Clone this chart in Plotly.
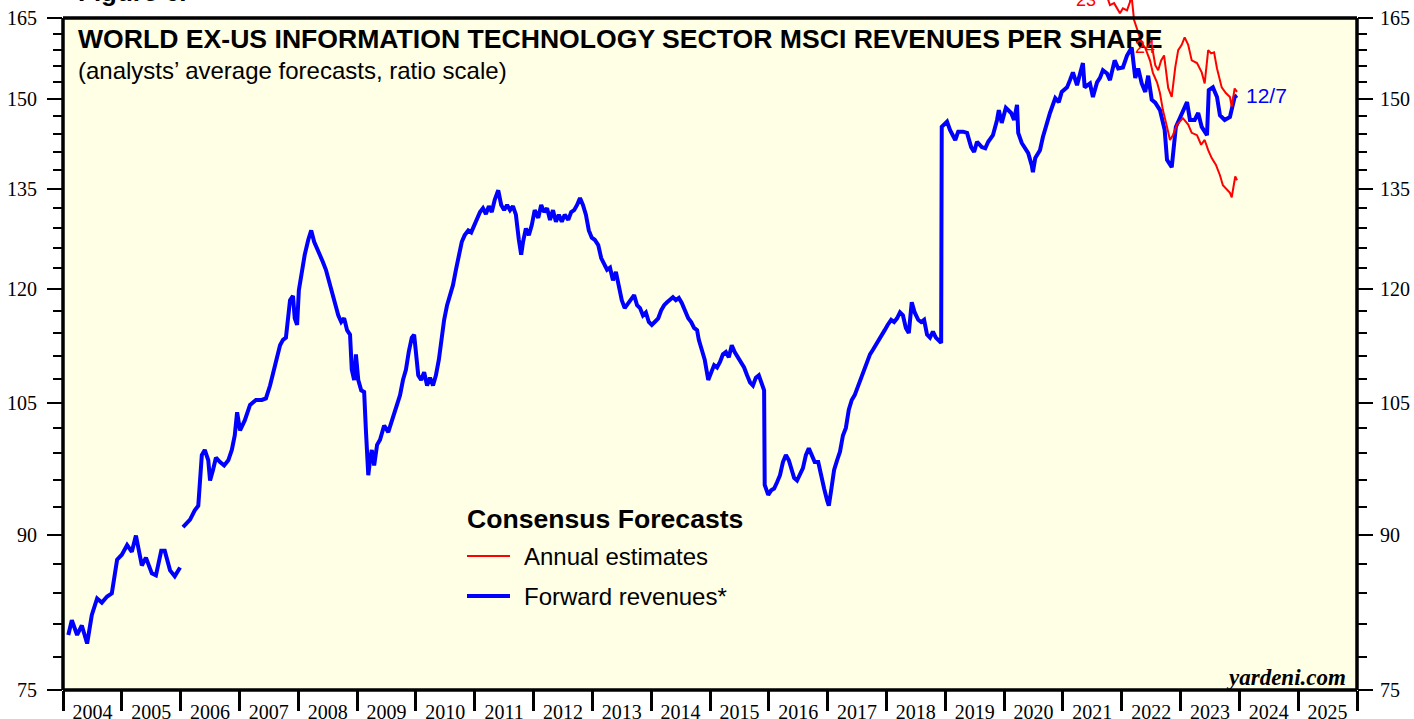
import math
import plotly.graph_objects as go

# ---------------- data ----------------
# Forward revenues (blue), first segment 2004-2005
blue_years_a = [2004.09, 2004.15, 2004.24, 2004.32, 2004.41, 2004.49, 2004.58, 2004.66, 2004.75, 2004.83,
                2004.92, 2005.00, 2005.09, 2005.17, 2005.24, 2005.34, 2005.41, 2005.51, 2005.58, 2005.67,
                2005.73, 2005.82, 2005.90, 2005.99]
blue_vals_a = [80.0, 81.4, 80.0, 80.9, 79.2, 81.9, 83.5, 83.1, 83.7, 84.0,
               87.4, 87.9, 88.9, 88.2, 89.9, 86.8, 87.6, 86.0, 85.8, 88.3,
               88.3, 86.3, 85.7, 86.6]

# Forward revenues (blue), second segment 2006-2023
blue_years_b = [
    2006.04, 2006.16, 2006.24, 2006.30, 2006.36, 2006.41, 2006.47, 2006.50, 2006.55, 2006.60,
    2006.67, 2006.74, 2006.81, 2006.87, 2006.92, 2006.96,
    2007.01, 2007.09, 2007.18, 2007.28, 2007.38, 2007.45, 2007.52, 2007.59, 2007.64, 2007.69,
    2007.74, 2007.79, 2007.86, 2007.91, 2007.94, 2007.98,
    2008.01, 2008.06, 2008.11, 2008.17, 2008.22, 2008.27, 2008.32, 2008.37, 2008.42, 2008.47,
    2008.52, 2008.57, 2008.62, 2008.68, 2008.73, 2008.78, 2008.83, 2008.88, 2008.91, 2008.95, 2008.98,
    2009.02, 2009.07, 2009.12, 2009.15, 2009.19, 2009.22, 2009.25, 2009.29, 2009.34, 2009.39,
    2009.46, 2009.53, 2009.59, 2009.66, 2009.73, 2009.78, 2009.83, 2009.88, 2009.93, 2009.97,
    2010.00, 2010.04, 2010.09, 2010.14, 2010.19, 2010.24, 2010.29, 2010.34, 2010.39, 2010.43,
    2010.48, 2010.53, 2010.58, 2010.63, 2010.68, 2010.73, 2010.78, 2010.83, 2010.89, 2010.94, 2010.99,
    2011.04, 2011.09, 2011.14, 2011.19, 2011.24, 2011.29, 2011.34, 2011.40, 2011.45, 2011.50,
    2011.55, 2011.60, 2011.65, 2011.70, 2011.75, 2011.79, 2011.82, 2011.87, 2011.92, 2011.97,
    2012.02, 2012.08, 2012.13, 2012.18, 2012.23, 2012.28, 2012.33, 2012.38, 2012.43, 2012.48,
    2012.53, 2012.59, 2012.64, 2012.69, 2012.74, 2012.79, 2012.84, 2012.89, 2012.94, 2012.99,
    2013.04, 2013.10, 2013.15, 2013.20, 2013.25, 2013.30, 2013.35, 2013.40, 2013.45, 2013.50,
    2013.55, 2013.61, 2013.66, 2013.71, 2013.76, 2013.81, 2013.86, 2013.91, 2013.96,
    2014.01, 2014.06, 2014.12, 2014.17, 2014.22, 2014.27, 2014.32, 2014.37, 2014.42, 2014.47,
    2014.52, 2014.57, 2014.63, 2014.68, 2014.73, 2014.78, 2014.81, 2014.86, 2014.91, 2014.97,
    2015.02, 2015.07, 2015.12, 2015.17, 2015.22, 2015.27, 2015.32, 2015.37, 2015.42, 2015.48,
    2015.53, 2015.58, 2015.63, 2015.68, 2015.73, 2015.78, 2015.83, 2015.88, 2015.92, 2015.93, 2015.99,
    2016.04, 2016.09, 2016.14, 2016.19, 2016.24, 2016.29, 2016.34, 2016.38, 2016.43, 2016.48,
    2016.53, 2016.58, 2016.63, 2016.68, 2016.73, 2016.78, 2016.84, 2016.89, 2016.94, 2016.99,
    2017.02, 2017.06, 2017.11, 2017.16, 2017.21, 2017.26, 2017.31, 2017.36, 2017.41, 2017.46,
    2017.52, 2017.57, 2017.62, 2017.67, 2017.72, 2017.77, 2017.82, 2017.87, 2017.92, 2017.97,
    2018.02, 2018.08, 2018.13, 2018.18, 2018.23, 2018.28, 2018.33, 2018.38, 2018.43, 2018.48,
    2018.54, 2018.59, 2018.64, 2018.69, 2018.74, 2018.79, 2018.84, 2018.89, 2018.93, 2018.94,
    2019.03, 2019.08, 2019.17, 2019.22, 2019.30, 2019.37, 2019.44, 2019.49, 2019.54, 2019.62,
    2019.68, 2019.73, 2019.81, 2019.88, 2019.91, 2019.96,
    2020.03, 2020.12, 2020.17, 2020.22, 2020.24, 2020.30, 2020.36, 2020.41, 2020.47, 2020.49,
    2020.53, 2020.61, 2020.66, 2020.73, 2020.78, 2020.87, 2020.93, 2020.98,
    2021.07, 2021.12, 2021.17, 2021.24, 2021.34, 2021.37, 2021.46, 2021.51, 2021.58, 2021.63,
    2021.68, 2021.75, 2021.80, 2021.88, 2021.94,
    2022.02, 2022.09, 2022.17, 2022.23, 2022.28, 2022.34, 2022.40, 2022.45, 2022.51, 2022.57,
    2022.65, 2022.73, 2022.77, 2022.85, 2022.92, 2022.99,
    2023.11, 2023.16, 2023.24, 2023.30, 2023.36, 2023.45, 2023.48, 2023.55, 2023.62, 2023.67,
    2023.75, 2023.84, 2023.89, 2023.92, 2023.96,
]
blue_vals_b = [
    90.8, 91.6, 92.6, 93.1, 98.8, 99.4, 98.2, 95.9, 97.1, 98.5,
    98.0, 97.6, 98.2, 99.4, 101.1, 103.9,
    101.7, 102.9, 104.8, 105.4, 105.4, 105.6, 107.2, 109.2, 110.5, 112.4,
    113.1, 113.4, 118.5, 119.1, 116.0, 115.1,
    119.9, 122.8, 125.0, 127.2, 128.6, 126.9, 126.0, 125.0, 123.9, 122.8,
    121.3, 119.9, 118.5, 116.4, 115.5, 116.0, 114.4, 113.8, 109.2, 107.9, 111.2,
    107.9, 106.6, 106.4, 101.7, 96.5, 98.2, 99.4, 97.6, 100.0, 100.6,
    102.3, 101.5, 102.9, 104.2, 106.0, 107.9, 109.2, 111.6, 113.4, 113.8,
    111.8, 108.5, 107.9, 108.9, 107.2, 108.2, 107.2, 108.5, 110.5, 113.1,
    115.8, 117.8, 119.1, 120.6, 122.8, 125.0, 126.9, 127.9, 128.6, 128.3, 129.4,
    130.5, 131.4, 132.0, 131.1, 132.3, 131.4, 133.3, 134.8, 132.5, 131.7,
    132.5, 131.7, 132.3, 131.0, 127.2, 125.0, 126.8, 128.9, 127.9, 129.4,
    131.7, 130.5, 132.5, 131.4, 132.0, 130.2, 131.7, 129.9, 131.0, 129.9,
    131.0, 130.2, 131.4, 131.7, 132.5, 133.6, 132.5, 131.0, 128.6, 127.5,
    127.2, 126.4, 124.5, 123.5, 122.8, 123.1, 121.3, 122.5, 120.6, 118.5,
    117.4, 118.1, 118.8, 119.2, 117.8, 117.4, 116.4, 116.8, 115.5,
    115.1, 115.5, 116.0, 117.1, 117.8, 118.2, 118.5, 118.9, 118.5, 118.8,
    118.1, 117.1, 116.0, 115.5, 114.7, 114.4, 113.1, 111.8, 110.5, 107.9,
    108.9, 109.8, 109.5, 110.2, 111.2, 111.5, 110.8, 112.4, 111.5, 110.8,
    110.2, 109.5, 108.5, 107.6, 107.2, 108.2, 108.5, 107.2, 106.6, 95.4, 94.3,
    94.8, 95.0, 95.7, 96.5, 98.0, 98.8, 98.2, 97.1, 96.2, 95.9,
    96.5, 97.3, 98.8, 99.6, 98.8, 98.0, 98.0, 96.2, 95.0, 93.7,
    93.1, 94.8, 97.1, 98.2, 99.2, 101.1, 102.0, 104.2, 105.4, 106.0,
    107.2, 108.2, 108.9, 110.2, 111.2, 111.8, 112.4, 113.1, 113.8, 114.4,
    115.1, 115.8, 115.5, 116.0, 116.8, 116.4, 114.7, 114.0, 118.2, 116.8,
    115.8, 115.5, 115.8, 113.8, 113.4, 114.2, 113.4, 113.1, 112.7, 145.2,
    146.1, 144.7, 143.0, 144.4, 144.4, 144.2, 141.8, 141.0, 142.7, 141.8,
    141.6, 142.7, 143.8, 146.4, 148.1, 145.9,
    148.5, 147.6, 146.4, 149.0, 144.2, 142.5, 141.6, 140.8, 138.8, 137.7,
    140.0, 141.3, 143.5, 146.1, 147.6, 150.2, 149.5, 151.3,
    152.1, 153.4, 154.8, 152.5, 156.5, 152.1, 152.8, 150.4, 153.0, 153.8,
    155.2, 154.6, 153.4, 157.0, 155.5,
    155.7, 157.9, 159.4, 153.8, 155.5, 152.8, 151.3, 154.2, 149.9, 149.4,
    148.1, 144.7, 139.7, 138.5, 145.2, 146.9,
    149.5, 146.4, 146.4, 147.6, 145.2, 143.8, 151.6, 152.1, 150.4, 147.2,
    146.4, 146.9, 148.7, 150.4, 150.7,
]
assert len(blue_years_b) == len(blue_vals_b)
assert len(blue_years_a) == len(blue_vals_a)

# Annual estimates (red): 2023 and 2024
est23_years = [2021.63, 2021.77, 2021.80, 2021.87, 2021.92, 2021.97, 2022.02, 2022.09, 2022.14, 2022.16,
               2022.21, 2022.28, 2022.34, 2022.40, 2022.48, 2022.53, 2022.60, 2022.65, 2022.70, 2022.77,
               2022.82, 2022.87, 2022.94, 2023.04, 2023.13, 2023.19, 2023.28, 2023.35, 2023.41, 2023.47,
               2023.53, 2023.60, 2023.67, 2023.72, 2023.79, 2023.84, 2023.87, 2023.91, 2023.93, 2023.96]
est23_vals = [173.5, 168.5, 167.5, 167.9, 166.9, 165.9, 166.9, 166.5, 168.1, 170.1,
              164.6, 162.1, 160.2, 159.3, 157.0, 154.7, 153.0, 151.1, 148.1, 145.2,
              143.0, 143.8, 145.6, 146.7, 145.6, 144.2, 143.8, 142.2, 143.0, 141.3,
              140.0, 138.9, 137.2, 135.6, 134.8, 134.4, 133.7, 135.6, 137.0, 136.4]
est24_years = [2022.52, 2022.57, 2022.62, 2022.67, 2022.72, 2022.75, 2022.79, 2022.85, 2022.91, 2022.96,
               2023.02, 2023.07, 2023.13, 2023.19, 2023.28, 2023.36, 2023.41, 2023.47, 2023.52, 2023.57,
               2023.62, 2023.70, 2023.77, 2023.84, 2023.87, 2023.92, 2023.96]
est24_vals = [159.3, 156.1, 155.2, 157.0, 157.9, 155.2, 152.0, 150.4, 155.7, 158.9,
              159.9, 161.3, 159.9, 157.0, 156.5, 154.8, 152.8, 158.9, 158.3, 158.5,
              155.5, 152.1, 151.1, 150.4, 148.7, 151.9, 151.3]
assert len(est23_years) == len(est23_vals)
assert len(est24_years) == len(est24_vals)

year_labels = [str(y) for y in range(2004, 2026)]
y_ticks = [75, 90, 105, 120, 135, 150, 165]
y_minor = [v for v in range(78, 165, 3) if v % 15 != 0]

# ---------------- figure ----------------
W, H = 1414, 719
ML, MR, MT, MB = 63, 57, 0, 29
PH = H - MT - MB
Y0, YTOP = 75.0, 165.0
# top of the drawing area is 18 px above the 165 line
L = math.log10(YTOP / Y0) / (1 - 18.0 / PH)
YMAX_LOG = math.log10(Y0) + L


def py(px_from_top):
    return (PH - px_from_top) / PH


def px(x_pixel):
    return (x_pixel - ML) / (W - ML - MR)


p165 = (math.log10(YTOP) - math.log10(Y0)) / L

BLUE = "#0000FF"
RED = "#FF0000"
SERIF = "Liberation Serif, Times New Roman, serif"
SANS = "Liberation Sans, Arial, sans-serif"

fig = go.Figure()

fig.add_trace(go.Scatter(
    x=blue_years_a + [None] + blue_years_b,
    y=blue_vals_a + [None] + blue_vals_b,
    mode="lines", line=dict(color=BLUE, width=4), connectgaps=False,
    name="Forward revenues*", showlegend=False, hoverinfo="skip"))
fig.add_trace(go.Scatter(x=est23_years, y=est23_vals, mode="lines",
                         line=dict(color=RED, width=2), name="Annual estimates",
                         showlegend=False, hoverinfo="skip"))
fig.add_trace(go.Scatter(x=est24_years, y=est24_vals, mode="lines",
                         line=dict(color=RED, width=2), name="Annual estimates 2024",
                         showlegend=False, hoverinfo="skip"))
# helper trace to show secondary axes
fig.add_trace(go.Scatter(x=[None], y=[None], xaxis="x2", yaxis="y2", showlegend=False,
                         hoverinfo="skip"))

yaxis_common = dict(
    type="log", range=[math.log10(Y0), YMAX_LOG], domain=[0, 1],
    tickmode="array", tickvals=y_ticks, ticktext=[str(v) for v in y_ticks],
    ticks="outside", ticklen=15, tickwidth=2, tickcolor="black",
    minor=dict(tickmode="array", tickvals=y_minor, ticks="outside", ticklen=9,
               tickwidth=2, tickcolor="black", showgrid=False),
    showgrid=False, zeroline=False, showline=False,
    tickfont=dict(family=SERIF, size=20, color="black"), fixedrange=True,
)

fig.update_layout(
    width=W, height=H,
    margin=dict(l=ML, r=MR, t=MT, b=MB, pad=0, autoexpand=False),
    paper_bgcolor="white", plot_bgcolor="white",
    showlegend=False,
    xaxis=dict(range=[2004, 2026], tickmode="array", tickvals=list(range(2004, 2027)),
               ticks="outside", ticklen=20, tickwidth=3, tickcolor="black",
               showticklabels=False, showgrid=False, zeroline=False, showline=False,
               fixedrange=True),
    xaxis2=dict(range=[2004, 2026], overlaying="x", anchor="y", side="bottom",
                tickmode="array", tickvals=[y + 0.5 for y in range(2004, 2026)],
                ticktext=year_labels, ticks="", showgrid=False, zeroline=False,
                showline=False, tickfont=dict(family=SERIF, size=20, color="black"),
                ticklabelstandoff=8, fixedrange=True),
    yaxis=dict(side="left", ticklabelstandoff=6, **yaxis_common),
    yaxis2=dict(side="right", overlaying="y", anchor="x", ticklabelstandoff=3, **yaxis_common),
)

# plot area background and frame
fig.add_shape(type="rect", xref="paper", yref="paper", x0=0, x1=1, y0=0, y1=p165,
              fillcolor="#FFFFE6", line=dict(width=0), layer="below")
frame = dict(color="black", width=3.5)
fig.add_shape(type="line", xref="paper", yref="paper", x0=0, x1=1, y0=p165, y1=p165, line=frame)
fig.add_shape(type="line", xref="paper", yref="paper", x0=0, x1=1, y0=0, y1=0, line=frame)
fig.add_shape(type="line", xref="paper", yref="paper", x0=0, x1=0, y0=0, y1=p165, line=frame)
fig.add_shape(type="line", xref="paper", yref="paper", x0=1, x1=1, y0=0, y1=p165, line=frame)

# legend (manual)
fig.add_shape(type="line", xref="paper", yref="paper", x0=px(467), x1=px(510),
              y0=py(556), y1=py(556), line=dict(color=RED, width=2))
fig.add_shape(type="line", xref="paper", yref="paper", x0=px(467), x1=px(510),
              y0=py(596), y1=py(596), line=dict(color=BLUE, width=4))

ann = []
ann.append(dict(text="<b>Figure 6.</b>", x=px(76), y=py(-8), xanchor="left", yanchor="middle",
                font=dict(family=SANS, size=26, color="black")))
ann.append(dict(text="<b>WORLD EX-US INFORMATION TECHNOLOGY SECTOR MSCI REVENUES PER SHARE</b>",
                x=px(76), y=py(39), xanchor="left", yanchor="middle",
                font=dict(family=SANS, size=26.6, color="black")))
ann.append(dict(text="(analysts’ average forecasts, ratio scale)",
                x=px(76), y=py(70), xanchor="left", yanchor="middle",
                font=dict(family=SANS, size=24, color="black")))
ann.append(dict(text="<b>Consensus Forecasts</b>", x=px(465), y=py(519), xanchor="left",
                yanchor="middle", font=dict(family=SANS, size=26.6, color="black")))
ann.append(dict(text="Annual estimates", x=px(522), y=py(556), xanchor="left",
                yanchor="middle", font=dict(family=SANS, size=24, color="black")))
ann.append(dict(text="Forward revenues*", x=px(522), y=py(596), xanchor="left",
                yanchor="middle", font=dict(family=SANS, size=24, color="black")))
ann.append(dict(text="<b><i>yardeni.com</i></b>", x=px(1348), y=py(677), xanchor="right",
                yanchor="middle", font=dict(family=SERIF, size=23, color="black")))
for a in ann:
    a.update(xref="paper", yref="paper", showarrow=False)

# series labels in data coordinates
ann2 = [
    dict(text="23", x=2021.39, y=math.log10(168.5), xanchor="center", yanchor="middle",
         font=dict(family=SANS, size=18, color=RED)),
    dict(text="24", x=2022.40, y=math.log10(159.5), xanchor="center", yanchor="middle",
         font=dict(family=SANS, size=18, color=RED)),
    dict(text="12/7", x=blue_years_b[-1] + 0.12, y=math.log10(blue_vals_b[-1]), xanchor="left",
         yanchor="middle", font=dict(family=SANS, size=21, color=BLUE)),
]
for a in ann2:
    a.update(xref="x", yref="y", showarrow=False)

fig.update_layout(annotations=ann + ann2)

fig.write_html(
    "out.html",
    config={"displayModeBar": False, "staticPlot": True},
    post_script="document.body.style.margin='0px';document.body.style.overflow='hidden';",
)
